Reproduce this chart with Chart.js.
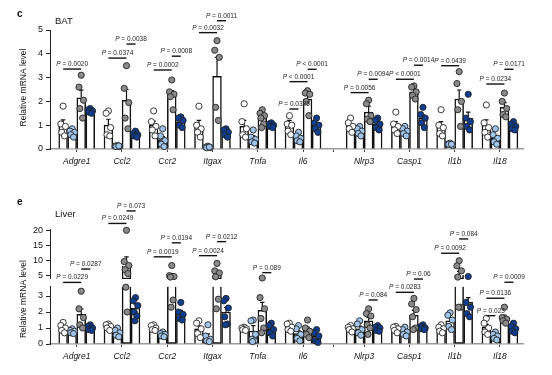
<!DOCTYPE html>
<html>
<head>
<meta charset="utf-8">
<script src="https://cdn.jsdelivr.net/npm/chart.js@4.4.1/dist/chart.umd.min.js"></script>
<style>
body { margin:0; width:552px; height:375px; position:relative; overflow:hidden; background:#fff; font-family:'Liberation Sans', Arial, sans-serif; }
canvas { position:absolute; left:0; }
.t { position:absolute; line-height:1; color:#111; white-space:nowrap; }
</style>
</head>
<body>
<canvas id="bat" width="552" height="185" style="top:0"></canvas>
<canvas id="liver" width="552" height="190" style="top:185px"></canvas>
<div class="t" style="left:17px;top:9px;font-size:10px;font-weight:bold">c</div>
<div class="t" style="left:55px;top:16px;font-size:9.5px">BAT</div>
<div class="t" style="left:17px;top:197px;font-size:10px;font-weight:bold">e</div>
<div class="t" style="left:55px;top:209px;font-size:9.5px">Liver</div>
<script>
var genes = ['Adgre1', 'Ccl2', 'Ccr2', 'Itgax', 'Tnfa', 'Il6', 'Nlrp3', 'Casp1', 'Il1b', 'Il18'];

// ---- BAT: bar means, SEM and single animals (4 groups) ----
var batMean1 = [1.0, 1.0, 1.0, 0.95, 0.95, 1.05, 0.95, 1.0, 0.95, 1.0];
var batMean2 = [0.68, 0.12, 0.4, 0.08, 0.45, 0.5, 0.8, 0.75, 0.2, 0.45];
var batMean3 = [2.15, 2.05, 2.3, 3.05, 1.3, 2.1, 1.55, 2.4, 2.1, 1.75];
var batMean4 = [1.6, 0.6, 1.15, 0.7, 1.0, 1.0, 1.05, 1.3, 1.3, 0.95];
var batSem1 = [0.22, 0.25, 0.17, 0.25, 0.25, 0.15, 0.1, 0.15, 0.2, 0.22];
var batSem2 = [0.06, 0.02, 0.12, 0.02, 0.1, 0.07, 0.07, 0.07, 0.02, 0.11];
var batSem3 = [0.32, 0.45, 0.15, 0.8, 0.13, 0.2, 0.25, 0.1, 0.38, 0.2];
var batSem4 = [0.04, 0.05, 0.09, 0.06, 0.04, 0.1, 0.09, 0.14, 0.25, 0.07];
var batDots1 = [[1.8, 1.05, 0.95, 0.7, 0.55], [1.6, 1.5, 0.9, 0.6, 0.55], [1.6, 1.15, 0.95, 0.8, 0.55], [1.8, 1.0, 0.85, 0.7, 0.5], [1.9, 1.15, 0.85, 0.6, 0.5],
  [1.4, 1.05, 1.0, 0.75, 0.6], [1.3, 1.1, 0.95, 0.85, 0.7], [1.55, 1.05, 0.95, 0.8, 0.65], [1.65, 1.0, 0.9, 0.65, 0.55], [1.85, 1.1, 0.9, 0.7, 0.5]];
var batDots2 = [[0.85, 0.75, 0.7, 0.6, 0.5], [0.15, 0.12, 0.1, 0.1, 0.13], [0.85, 0.55, 0.35, 0.2, 0.1], [0.12, 0.08, 0.06, 0.05, 0.08], [0.8, 0.5, 0.4, 0.3, 0.25],
  [0.7, 0.55, 0.45, 0.35, 0.3], [0.95, 0.85, 0.75, 0.65, 0.55], [0.95, 0.85, 0.75, 0.65, 0.55], [0.25, 0.2, 0.15, 0.2, 0.2], [0.85, 0.6, 0.45, 0.3, 0.2]];
var batDots3 = [[3.1, 2.6, 2.05, 1.7, 1.3], [3.5, 2.55, 1.95, 1.3, 0.85], [2.9, 2.4, 2.3, 2.2, 1.65], [4.55, 4.15, 3.85, 1.75, 1.2], [1.65, 1.5, 1.4, 1.3, 1.05, 0.9],
  [2.45, 2.35, 2.3, 2.0, 1.4], [2.05, 1.9, 1.4, 1.25, 1.15], [2.65, 2.6, 2.4, 2.25, 2.1], [3.25, 2.75, 2.0, 1.65, 0.95], [2.35, 2.0, 1.7, 1.45, 1.35]];
var batDots4 = [[1.7, 1.65, 1.6, 1.55, 1.5], [0.75, 0.65, 0.6, 0.55, 0.5], [1.35, 1.3, 1.2, 1.0, 0.9], [0.85, 0.8, 0.7, 0.6, 0.5], [1.1, 1.05, 1.0, 0.95, 0.9],
  [1.3, 1.1, 1.0, 0.85, 0.7], [1.3, 1.2, 1.05, 0.9, 0.8], [1.75, 1.45, 1.3, 1.1, 0.9], [2.3, 1.3, 1.15, 0.95, 0.8], [1.15, 1.05, 0.95, 0.85, 0.8]];
var batTicks = [0, 1, 2, 3, 4, 5];

// BAT P values: gene index, compared groups, bracket height, label
var batPGene = [0, 1, 1, 2, 2, 3, 3, 5, 5, 5, 6, 6, 7, 7, 8, 9, 9];
var batPFrom = [0, 0, 2, 0, 2, 0, 2, 0, 0, 2, 0, 2, 0, 2, 0, 0, 2];
var batPTo = [2, 2, 3, 2, 3, 2, 3, 1, 2, 3, 2, 3, 2, 3, 2, 2, 3];
var batPLevel = [3.36, 3.82, 4.41, 3.32, 3.9, 4.89, 5.39, 1.68, 2.83, 3.35, 2.37, 2.93, 2.93, 3.52, 3.5, 2.73, 3.35];
var batPText = ['P = 0.0020', 'P = 0.0374', 'P = 0.0038', 'P = 0.0002', 'P = 0.0008', 'P = 0.0032', 'P = 0.0011', 'P = 0.0325', 'P < 0.0001',
  'P < 0.0001', 'P = 0.0056', 'P = 0.0094', 'P < 0.0001', 'P = 0.0014', 'P = 0.0439', 'P = 0.0234', 'P = 0.0171'];

// ---- Liver ----
var livMean1 = [1.0, 1.08, 1.05, 0.95, 0.95, 1.05, 0.98, 0.95, 0.95, 1.05];
var livMean2 = [0.8, 0.71, 0.6, 0.45, 0.8, 0.65, 0.95, 0.78, 1.45, 0.5];
var livMean3 = [1.85, 8.1, 4.5, 5.0, 2.1, 0.86, 1.45, 1.8, 5.0, 1.6];
var livMean4 = [1.0, 2.25, 1.9, 2.0, 0.91, 0.48, 1.0, 1.03, 2.6, 0.95];
var livSem1 = [0.1, 0.08, 0.07, 0.18, 0.04, 0.09, 0.07, 0.07, 0.09, 0.18];
var livSem2 = [0.06, 0.1, 0.06, 0.18, 0.35, 0.17, 0.17, 0.1, 0.2, 0.09];
var livSem3 = [0.35, 3.0, 0.9, 1.0, 0.5, 0.19, 0.22, 0.3, 1.2, 0.2];
var livSem4 = [0.06, 0.25, 0.2, 0.28, 0.15, 0.15, 0.06, 0.05, 0.3, 0.1];
var livDots1 = [[1.35, 1.15, 1.0, 0.85, 0.7], [1.25, 1.2, 1.1, 1.0, 0.85], [1.2, 1.15, 1.0, 0.9, 0.85], [1.45, 1.3, 0.95, 0.65, 0.4], [1.05, 1.0, 0.95, 0.9, 0.85],
  [1.3, 1.25, 1.05, 0.9, 0.8], [1.15, 1.05, 0.95, 0.9, 0.75], [1.1, 1.05, 0.95, 0.85, 0.7], [1.2, 1.05, 0.95, 0.8, 0.7], [1.6, 1.3, 1.0, 0.75, 0.6]];
var livDots2 = [[0.95, 0.85, 0.8, 0.7, 0.65], [1.0, 0.85, 0.7, 0.55, 0.45], [0.75, 0.65, 0.6, 0.5, 0.45], [1.2, 0.5, 0.3, 0.2, 0.15], [1.5, 1.45, 0.6, 0.3, 0.2, 0.15],
  [1.15, 0.95, 0.6, 0.35, 0.2], [1.45, 1.25, 0.9, 0.7, 0.55], [1.05, 0.9, 0.75, 0.6, 0.5], [1.95, 1.8, 1.5, 1.1, 0.9], [0.75, 0.6, 0.5, 0.35, 0.25]];
var livDots3 = [[3.3, 2.2, 1.65, 1.2, 1.0], [20, 9.5, 8.2, 6.8, 5.5, 3.55, 2.0], [8.2, 4.8, 4.5, 4.3, 2.75, 2.3], [8.9, 6.4, 5.7, 4.4, 2.8, 2.2], [4.0, 2.9, 2.2, 1.6, 1.0, 0.7],
  [1.5, 1.0, 0.8, 0.6, 0.4], [2.2, 1.9, 1.75, 1.2, 1.0, 0.6], [2.85, 2.5, 2.15, 1.7, 1.0, 0.9], [9.8, 8.1, 6.4, 4.3, 2.3, 2.3], [2.3, 1.65, 1.55, 1.45, 1.3]];
var livDots4 = [[1.2, 1.1, 1.0, 0.9, 0.85], [2.9, 2.7, 2.4, 2.0, 1.75, 1.45], [2.6, 2.0, 1.85, 1.6, 1.5], [2.85, 2.7, 2.25, 1.7, 1.25, 1.2], [1.3, 1.15, 0.9, 0.7, 0.5],
  [0.9, 0.7, 0.5, 0.2, 0.1], [1.15, 1.05, 1.0, 0.85, 0.8], [1.2, 1.1, 1.0, 0.95, 0.9], [4.5, 2.6, 2.3, 1.9, 1.7], [1.3, 1.1, 0.95, 0.8, 0.7]];
var livLowTicks = [0, 1, 2, 3];
var livHighTicks = [5, 10, 15, 20];

var livPGene = [0, 0, 1, 1, 2, 2, 3, 3, 4, 6, 7, 7, 8, 8, 9, 9, 9];
var livPFrom = [0, 2, 0, 2, 0, 2, 0, 2, 2, 2, 0, 2, 0, 2, 0, 0, 2];
var livPTo = [2, 3, 2, 3, 2, 3, 2, 3, 3, 3, 2, 3, 2, 3, 1, 2, 3];
var livPLevel = [3.85, 7.0, 22.3, 26.5, 11.1, 15.8, 11.5, 16.2, 5.8, 2.75, 3.23, 4.06, 12.3, 17.1, 1.77, 2.86, 3.86];
var livPText = ['P = 0.0229', 'P = 0.0287', 'P = 0.0249', 'P = 0.073', 'P = 0.0019', 'P = 0.0194', 'P = 0.0024', 'P = 0.0212', 'P = 0.089',
  'P = 0.084', 'P = 0.0283', 'P = 0.06', 'P = 0.0092', 'P = 0.084', 'P = 0.023', 'P = 0.0136', 'P = 0.0009'];

// ---- layout / style ----
var FONT = "'Liberation Sans', Arial, sans-serif";
var groupFill = ['#ffffff', '#9fc5ea', '#8a8a8a', '#0f3d8f'];
var geneX = [0, 1, 2, 3, 4, 5, 6.35, 7.35, 8.35, 9.35];
var breakX = 5.67;
var groupOff = [-0.3, -0.1, 0.1, 0.3];
var jitter = [0, -0.05, 0.05, -0.03, 0.03, -0.015, 0.015];
var LOW_MAX = 3.6, HIGH_MIN = 3.7;

function xOf(g, k) { return geneX[g] + groupOff[k]; }

function xScale(h) {
    return {
        type: 'linear', min: -0.59, max: 9.86, offset: false,
        afterBuildTicks: function(s) {
            s.ticks = geneX.map(function(v) { return { value: v }; }).concat([{ value: breakX }]);
        },
        afterFit: function(s) { s.height = h; },
        ticks: {
            autoSkip: false, maxRotation: 0, padding: 5, color: '#111',
            font: { family: FONT, size: 8.5, style: 'italic' },
            callback: function(v, i) { return i < genes.length ? genes[i] : ''; }
        },
        grid: { offset: false, drawOnChartArea: false, tickLength: 3, color: '#444' },
        border: { color: '#9a9a9a', width: 1.6 }
    };
}

function yScale(min, max, ticks, extra) {
    var s = {
        type: 'linear', min: min, max: max,
        afterBuildTicks: function(a) { a.ticks = ticks.map(function(v) { return { value: v }; }); },
        afterFit: function(a) { a.width = 50; },
        ticks: { autoSkip: false, padding: 3, color: '#111', font: { family: FONT, size: 9 } },
        grid: { drawOnChartArea: false, tickLength: 4, color: '#222' },
        border: { color: '#222', width: 1 }
    };
    for (var k in extra) s[k] = extra[k];
    return s;
}

function scatterSet(dots, k, yId, keep) {
    var pts = [];
    dots.forEach(function(list, g) {
        list.forEach(function(v, j) {
            if (keep(v)) pts.push({ x: xOf(g, k) + jitter[j % jitter.length], y: v });
        });
    });
    return {
        type: 'scatter', data: pts, yAxisID: yId, clip: false,
        pointRadius: 3.1, pointBorderWidth: 0.9, pointBorderColor: '#222',
        pointBackgroundColor: groupFill[k]
    };
}

function barSet(data, yId) {
    return {
        type: 'bar', data: data, yAxisID: yId, grouped: false, barThickness: 8.8,
        backgroundColor: '#ffffff', borderColor: '#111', borderWidth: 1.5,
        borderSkipped: function(c) {
            var r = c && c.raw;
            return r && Array.isArray(r.y) && r.y[1] >= LOW_MAX ? 'end' : 'start';
        }
    };
}

function errPlugin(means, sems, pix) {
    return {
        id: 'errbars',
        afterDatasetDraw: function(chart, args) {
            if (!chart.data.datasets[args.index].drawErr) return;
            var ctx = chart.ctx, xs = chart.scales.x;
            ctx.save();
            ctx.strokeStyle = '#111';
            ctx.lineWidth = 1.2;
            for (var k = 0; k < 4; k++) {
                for (var g = 0; g < genes.length; g++) {
                    var x = xs.getPixelForValue(xOf(g, k));
                    var y0 = pix(chart, means[k][g], HIGH_MIN);
                    var y1 = pix(chart, means[k][g] + sems[k][g], HIGH_MIN);
                    ctx.beginPath();
                    ctx.moveTo(x, y0); ctx.lineTo(x, y1);
                    ctx.moveTo(x - 2.2, y1); ctx.lineTo(x + 2.2, y1);
                    ctx.stroke();
                }
            }
            ctx.restore();
        }
    };
}

function pvalPlugin(gene, from, to, level, text, pix) {
    return {
        id: 'pvals',
        afterDraw: function(chart) {
            var ctx = chart.ctx, xs = chart.scales.x;
            ctx.save();
            for (var i = 0; i < gene.length; i++) {
                var x1 = xs.getPixelForValue(xOf(gene[i], from[i]));
                var x2 = xs.getPixelForValue(xOf(gene[i], to[i]));
                var y = pix(chart, level[i], 4.1);
                ctx.strokeStyle = '#111';
                ctx.lineWidth = 1.4;
                ctx.beginPath(); ctx.moveTo(x1, y); ctx.lineTo(x2, y); ctx.stroke();
                var head = text[i].charAt(0), rest = text[i].slice(1);
                ctx.font = 'italic 6.5px ' + FONT;
                var w1 = ctx.measureText(head).width;
                ctx.font = '6.5px ' + FONT;
                var w2 = ctx.measureText(rest).width;
                var sx = (x1 + x2) / 2 - (w1 + w2) / 2;
                ctx.fillStyle = '#222';
                ctx.textAlign = 'left';
                ctx.textBaseline = 'alphabetic';
                ctx.font = 'italic 6.5px ' + FONT;
                ctx.fillText(head, sx, y - 3);
                ctx.font = '6.5px ' + FONT;
                ctx.fillText(rest, sx + w1, y - 3);
            }
            ctx.restore();
        }
    };
}

function titlePlugin(center) {
    return {
        id: 'ytitle',
        afterDraw: function(chart) {
            var ctx = chart.ctx;
            ctx.save();
            ctx.translate(23.5, center(chart));
            ctx.rotate(-Math.PI / 2);
            ctx.font = '8.5px ' + FONT;
            ctx.textAlign = 'center';
            ctx.textBaseline = 'middle';
            ctx.fillStyle = '#111';
            ctx.fillText('Relative mRNA level', 0, 0);
            ctx.restore();
        }
    };
}

function batPix(chart, v) { return chart.scales.y.getPixelForValue(v); }
function livPix(chart, v, split) {
    return v <= split ? chart.scales.yLow.getPixelForValue(v) : chart.scales.yHigh.getPixelForValue(v);
}

var baseOpts = {
    responsive: false, animation: false, events: [],
    plugins: { legend: { display: false }, tooltip: { enabled: false } }
};

// ---- BAT chart ----
var batMeans = [batMean1, batMean2, batMean3, batMean4];
var batSems = [batSem1, batSem2, batSem3, batSem4];
var batDots = [batDots1, batDots2, batDots3, batDots4];
var batSets = [];
for (var k = 0; k < 4; k++) batSets.push(scatterSet(batDots[k], k, 'y', function() { return true; }));
for (var k = 0; k < 4; k++) {
    var bs = barSet(batMeans[k].map(function(m, g) { return { x: xOf(g, k), y: m }; }), 'y');
    if (k === 0) bs.drawErr = true;
    batSets.push(bs);
}

new Chart(document.getElementById('bat'), {
    type: 'bar',
    data: { datasets: batSets },
    options: Object.assign({}, baseOpts, {
        layout: { padding: { left: 0, right: 29, top: 30, bottom: 0 } },
        scales: { x: xScale(36), y: yScale(0, 5, batTicks, {}) }
    }),
    plugins: [
        errPlugin(batMeans, batSems, batPix),
        pvalPlugin(batPGene, batPFrom, batPTo, batPLevel, batPText, batPix),
        titlePlugin(function(c) { return (c.chartArea.top + c.chartArea.bottom) / 2 - 2; })
    ]
});

// ---- Liver chart (broken y axis: stacked low / gap / high scales) ----
var livMeans = [livMean1, livMean2, livMean3, livMean4];
var livSems = [livSem1, livSem2, livSem3, livSem4];
var livDots = [livDots1, livDots2, livDots3, livDots4];
var livSets = [];
for (var k = 0; k < 4; k++) {
    livSets.push(scatterSet(livDots[k], k, 'yLow', function(v) { return v <= HIGH_MIN; }));
    livSets.push(scatterSet(livDots[k], k, 'yHigh', function(v) { return v > HIGH_MIN; }));
}
for (var k = 0; k < 4; k++) {
    var low = barSet(livMeans[k].map(function(m, g) { return { x: xOf(g, k), y: [0, Math.min(m, LOW_MAX)] }; }), 'yLow');
    if (k === 0) low.drawErr = true;
    livSets.push(low);
    var hi = [];
    livMeans[k].forEach(function(m, g) { if (m > HIGH_MIN) hi.push({ x: xOf(g, k), y: [HIGH_MIN, m] }); });
    livSets.push(barSet(hi, 'yHigh'));
}

new Chart(document.getElementById('liver'), {
    type: 'bar',
    data: { datasets: livSets },
    options: Object.assign({}, baseOpts, {
        layout: { padding: { left: 0, right: 29, top: 44.7, bottom: 0 } },
        scales: {
            x: xScale(31),
            yLow: yScale(0, LOW_MAX, livLowTicks, { position: 'left', stack: 'liver', stackWeight: 57.6 }),
            yGap: {
                type: 'linear', position: 'left', stack: 'liver', stackWeight: 7.5, min: 0, max: 1,
                afterFit: function(a) { a.width = 50; },
                ticks: { display: false }, grid: { display: false }, border: { display: false }
            },
            yHigh: yScale(HIGH_MIN, 20.2, livHighTicks, { position: 'left', stack: 'liver', stackWeight: 49.2 })
        }
    }),
    plugins: [
        errPlugin(livMeans, livSems, livPix),
        pvalPlugin(livPGene, livPFrom, livPTo, livPLevel, livPText, livPix),
        titlePlugin(function(c) { return (c.scales.yLow.getPixelForValue(0) + c.scales.yHigh.getPixelForValue(12)) / 2; })
    ]
});
</script>
</body>
</html>
